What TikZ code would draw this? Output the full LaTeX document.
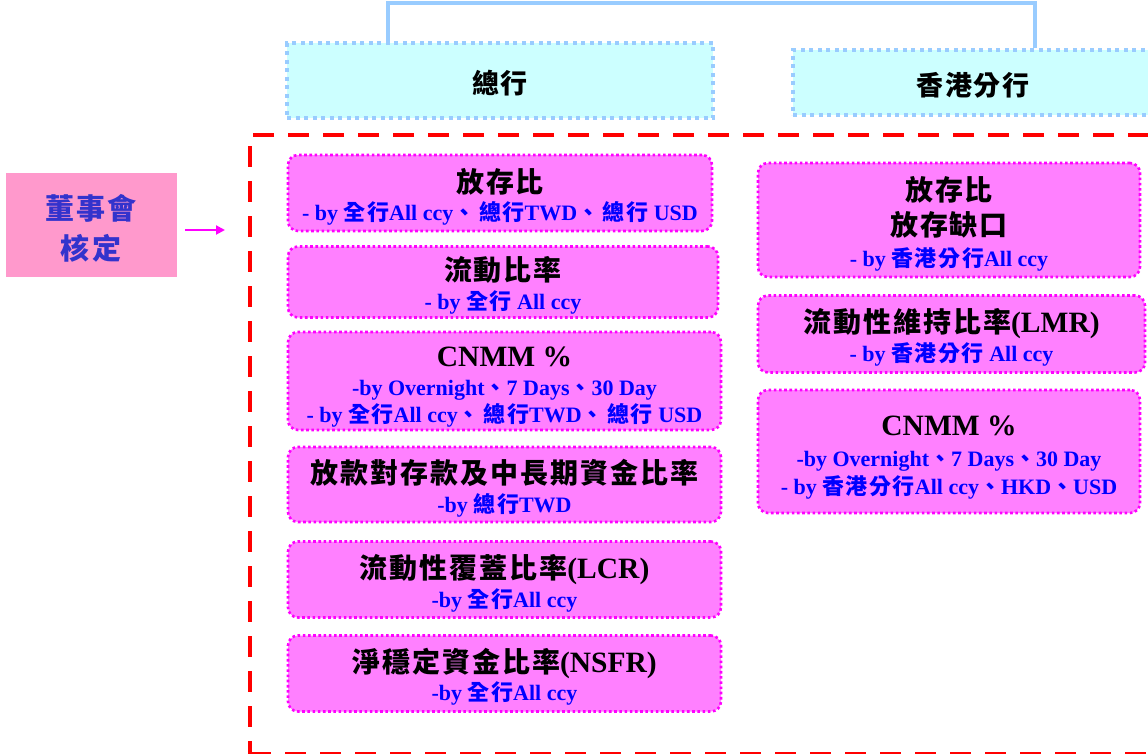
\documentclass[tikz,border=0pt]{standalone}
\usepackage{fontspec}
\setmainfont{Liberation Serif}
\newfontfamily\zhfont{Noto Sans CJK TC}[LetterSpace=7]
\newcommand\zh[1]{{\zhfont #1}}
\newcommand\tl{\fontsize{28}{28}\selectfont\color{black}}
\newcommand\lt[1]{{\fontsize{29.5}{28}\selectfont #1}}
\newcommand\bl[1]{\textcolor{subblue}{#1}}
\newcommand\hs{\rule{0pt}{34pt}}
\newcommand\ds{\rule[-8pt]{0pt}{8pt}}
\usetikzlibrary{arrows.meta}
\definecolor{boxfill}{HTML}{FF80FF}
\definecolor{boxline}{HTML}{FF00FF}
\definecolor{headfill}{HTML}{CCFFFF}
\definecolor{headline}{HTML}{99CCFF}
\definecolor{boardfill}{HTML}{FF99CC}
\definecolor{boardtext}{HTML}{3333CC}
\definecolor{subblue}{HTML}{0000FF}
\begin{document}
\begin{tikzpicture}[x=1pt,y=-1pt,
  metric/.style={draw=boxline, fill=boxfill, line width=2.6pt,
    dash pattern=on 2.6pt off 2.6pt, rounded corners=10pt, inner sep=0pt,
    align=center, font=\bfseries\fontsize{22}{28}\selectfont},
  head/.style={draw=headline, fill=headfill, line width=4pt,
    dash pattern=on 4pt off 4.5pt, inner sep=0pt, text height=30pt, text depth=5pt,
    font=\bfseries\fontsize{27}{30}\selectfont},
  link/.style={draw=headline, line width=4.5pt},
  frame/.style={draw=red, line width=4.5pt, dash pattern=on 21pt off 14pt, inner sep=0pt},
  arrowline/.style={draw=boxline, line width=2pt, -{Triangle[length=9pt,width=9pt]}}
]
\useasboundingbox (0,0) rectangle (1148,753);
\clip (0,0) rectangle (1148,753);

% red frame
\node[frame, minimum width=910pt, minimum height=619pt] (frame) at (705,444.5) {};

% headers
\node[head, minimum width=426pt, minimum height=75pt] (hq) at (500,80.5) {\zh{總行}};
\node[head, minimum width=360pt, minimum height=65pt] (hk) at (973,82.5) {\zh{香港分行}};
\draw[link] ([xshift=-112pt]hq.north) -- ++(0,-38) -| ([xshift=62pt]hk.north);

% board
\node[fill=boardfill, minimum width=171pt, minimum height=104pt, inner sep=0pt,
  align=center, text=boardtext, font=\bfseries\fontsize{29}{40}\selectfont]
  (board) at (91,225) {\rule{0pt}{34pt}\zh{董事會}\\\zh{核定}\rule[-6pt]{0pt}{6pt}};
\coordinate (arrs) at (185,230);
\coordinate (arre) at (225,230);
\draw[arrowline] (arrs) -- (arre);

% left column
\node[metric, minimum width=424pt, minimum height=76pt] (l1) at (500,193)
  {\hs{\tl\zh{放存比}}\\
   \bl{- by \zh{全行}All ccy\zh{、}\,\zh{總行}TWD\zh{、}\,\zh{總行} USD}\ds};
\node[metric, minimum width=430pt, minimum height=68pt] (l2) at (503,282)
  {\hs{\tl\zh{流動比率}}\\[1pt]
   \bl{- by \zh{全行} All ccy}\ds};
\node[metric, minimum width=433pt, minimum height=94pt] (l3) at (504.5,381)
  {\hs{\tl\lt{CNMM \%}}\\[1pt]
   \bl{-by Overnight\zh{、}7 Days\zh{、}30 Day}\\[-1pt]
   \bl{- by \zh{全行}All ccy\zh{、}\,\zh{總行}TWD\zh{、}\,\zh{總行} USD}\ds};
\node[metric, minimum width=433pt, minimum height=75pt] (l4) at (504.5,484.5)
  {\hs{\tl\zh{放款對存款及中長期資金比率}}\\[1pt]
   \bl{-by \zh{總行}TWD}\ds};
\node[metric, minimum width=433pt, minimum height=76pt] (l5) at (504.5,579.5)
  {\hs{\tl\zh{流動性覆蓋比率}\lt{(LCR)}}\\[1pt]
   \bl{-by \zh{全行}All ccy}\ds};
\node[metric, minimum width=433pt, minimum height=76pt] (l6) at (504.5,673.5)
  {\hs{\tl\zh{淨穩定資金比率}\lt{(NSFR)}}\\
   \bl{-by \zh{全行}All ccy}\ds};

% right column
\node[metric, minimum width=382pt, minimum height=114pt] (r1) at (949,220)
  {\hs{\tl\zh{放存比}}\\[7pt]
   {\tl\zh{放存缺口}}\\[3pt]
   \bl{- by \zh{香港分行}All ccy}\ds};
\node[metric, minimum width=387pt, minimum height=77pt] (r2) at (951.5,334)
  {\hs{\tl\zh{流動性維持比率}\lt{(LMR)}}\\[1pt]
   \bl{- by \zh{香港分行} All ccy}\ds};
\node[metric, minimum width=382pt, minimum height=123pt] (r3) at (949,451.5)
  {\hs{\tl\lt{CNMM \%}}\\[3pt]
   \bl{-by Overnight\zh{、}7 Days\zh{、}30 Day}\\
   \bl{- by \zh{香港分行}All ccy\zh{、}HKD\zh{、}USD}\ds};
\end{tikzpicture}
\end{document}
